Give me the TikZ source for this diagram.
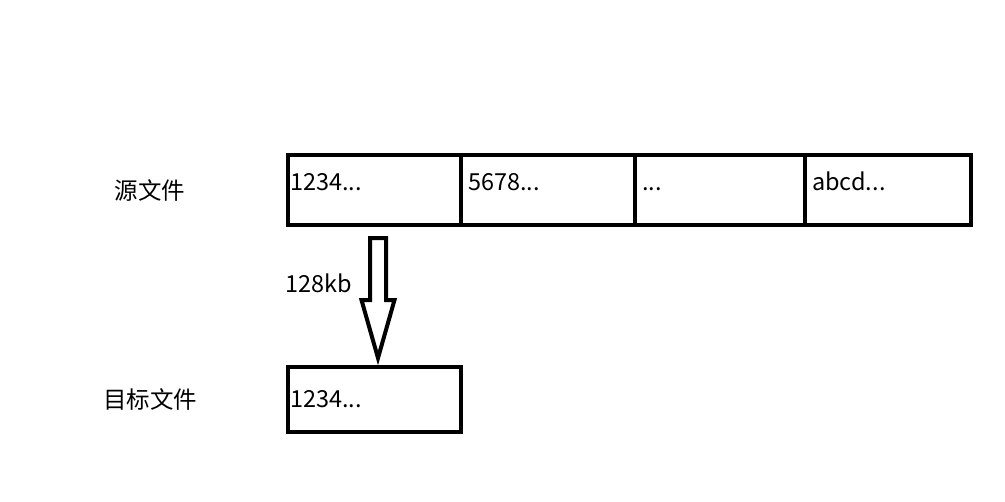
\documentclass[tikz,border=0pt]{standalone}
\usepackage{fontspec}
\newfontfamily\cjk{Noto Sans CJK SC}
\usetikzlibrary{positioning,calc}

\begin{document}
\begin{tikzpicture}[x=0.75pt, y=-0.75pt,
    cell/.style={draw, line width=3pt, outer sep=0pt, minimum height=52.5pt},
    txt/.style={font=\cjk\fontsize{17.6}{20}\selectfont, inner sep=0pt},
    blockarrow/.style={line width=3pt, line join=miter},
]
\useasboundingbox (0,0) rectangle (1005,501);
\node[cell, minimum width=129.75pt] (c1) at (374.5,190) {};
\node[cell, minimum width=130.5pt, right=0pt of c1] (c2) {};
\node[cell, minimum width=127.5pt, right=0pt of c2] (c3) {};
\node[cell, minimum width=124.5pt, right=0pt of c3] (c4) {};
\node[cell, minimum width=129.4pt, minimum height=48.75pt, below right=106.5pt and 0pt of c1.south west] (dst) {};

\node[txt, anchor=base west] (t1) at ($(c1.north west)+(2,35)$) {1234...};
\node[txt, anchor=base west] (t2) at ($(c2.north west)+(7,35)$) {5678...};
\node[txt, anchor=base west] (t3) at ($(c3.north west)+(7,35)$) {...};
\node[txt, anchor=base west] (t4) at ($(c4.north west)+(7,35)$) {abcd...};
\node[txt, anchor=base west] (td) at ($(dst.north west)+(2,40)$) {1234...};

\node[txt, left=77pt of c1] (src) {源文件};
\node[txt, left=68pt of dst] (tgt) {目标文件};

\coordinate (ashaft) at ($(c1.south)+(3.5,13)$);
\draw[blockarrow] (ashaft) ++(-8,0) -- ++(0,62) -- ++(-8.5,0) -- ++(16.5,58)
    -- ++(16.5,-58) -- ++(-8.5,0) -- ++(0,-62) -- cycle;
\node[txt, anchor=base east] (size) at ($(ashaft)+(-26,54)$) {128kb};
\end{tikzpicture}
\end{document}
